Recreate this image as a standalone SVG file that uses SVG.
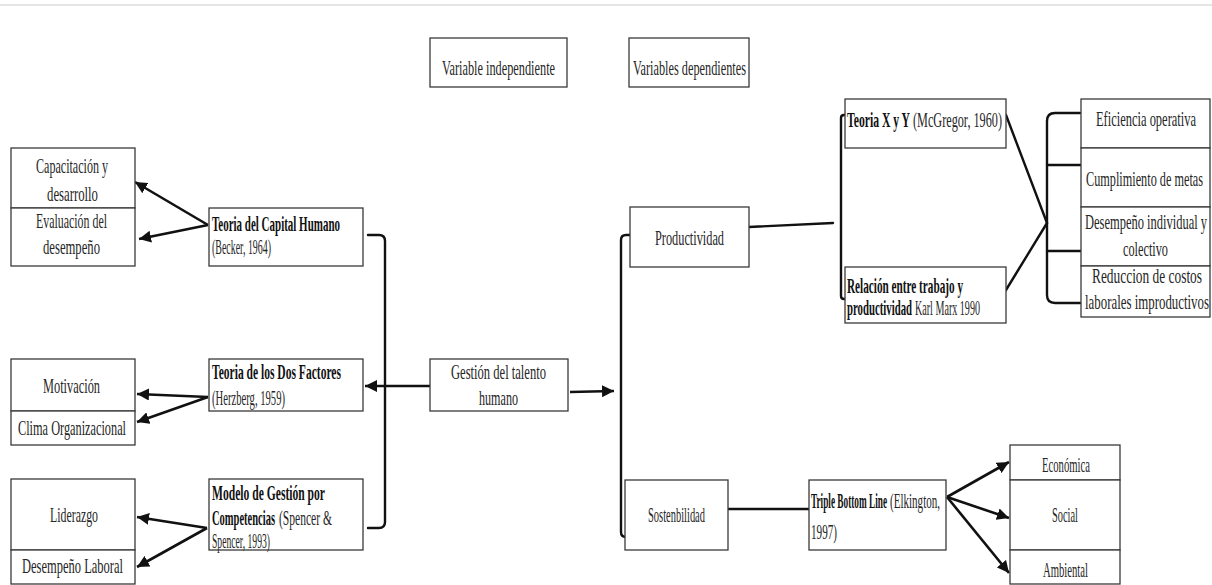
<svg xmlns="http://www.w3.org/2000/svg" width="1212" height="585" viewBox="0 0 1212 585">
<style>
.b{fill:#fff;stroke:#3a3a3a;stroke-width:1.3}
text{font-family:"Liberation Serif","Times New Roman",serif;font-size:21px;fill:#262626}
.bd{font-weight:bold;fill:#111}
.c{fill:none;stroke:#111;stroke-width:2.4;stroke-linecap:round}
.a{fill:none;stroke:#111;stroke-width:2.6;marker-end:url(#ah)}
</style>
<defs>
<marker id="ah" markerUnits="userSpaceOnUse" markerWidth="14" markerHeight="12" refX="12" refY="6" orient="auto">
<path d="M0,0 L12,6 L0,12 Z" fill="#111"/>
</marker>
</defs>
<rect width="1212" height="585" fill="#fff"/>
<line x1="0" y1="5" x2="1212" y2="5" stroke="#dcdcdc" stroke-width="1.5"/>

<g id="connectors">
<line class="a" x1="208" y1="225" x2="135" y2="182"/>
<line class="a" x1="208" y1="225" x2="139" y2="239"/>
<line class="a" x1="208" y1="397" x2="137" y2="394"/>
<line class="a" x1="208" y1="397" x2="137" y2="422"/>
<line class="a" x1="207" y1="528" x2="137" y2="517"/>
<line class="a" x1="207" y1="528" x2="137" y2="567"/>
<path class="c" d="M368,235 L379,235 Q385,235 385,241 L385,522 Q385,528 379,528 L368,528"/>
<line class="a" x1="430" y1="386" x2="365" y2="386"/>
<line class="a" x1="570" y1="392" x2="614" y2="391"/>
<path class="c" d="M630,235 L626,235 Q621,235 621,240 L621,532 Q621,537 626,537 L626,537"/>
<line class="c" x1="749" y1="227" x2="833" y2="223"/>
<path class="c" d="M845,115 L844,115 Q841,115 841,118 L841,296 Q841,299 844,299 L845,299"/>
<line class="c" stroke-width="2" x1="1006" y1="115" x2="1047" y2="223"/>
<line class="c" stroke-width="2" x1="1006" y1="290" x2="1047" y2="223"/>
<path class="c" d="M1080,113 L1055,113 Q1047,113 1047,121 L1047,295 Q1047,303 1055,303 L1080,303"/>
<line class="c" x1="1047" y1="165" x2="1081" y2="165"/>
<line class="c" x1="1047" y1="251" x2="1081" y2="251"/>
<line class="c" x1="728" y1="509" x2="809" y2="509"/>
<line class="a" x1="947" y1="497" x2="1009" y2="462"/>
<line class="a" x1="947" y1="497" x2="1009" y2="518"/>
<line class="a" x1="947" y1="497" x2="1009" y2="573"/>
</g>

<g id="var-indep"><rect class="b" x="430" y="38" width="137" height="49"/><text x="442" y="75" textLength="113" lengthAdjust="spacingAndGlyphs">Variable independiente</text></g>
<g id="var-dep"><rect class="b" x="629" y="38" width="120" height="49"/><text x="633" y="75" textLength="113" lengthAdjust="spacingAndGlyphs">Variables dependientes</text></g>

<g id="capacitacion"><rect class="b" x="11" y="148" width="124" height="60"/><text x="36" y="173" textLength="72" lengthAdjust="spacingAndGlyphs">Capacitación y</text><text x="47" y="201" textLength="51" lengthAdjust="spacingAndGlyphs">desarrollo</text></g>
<g id="evaluacion"><rect class="b" x="11" y="208" width="124" height="58"/><text x="36" y="228" textLength="71" lengthAdjust="spacingAndGlyphs">Evaluación del</text><text x="43" y="254" textLength="57" lengthAdjust="spacingAndGlyphs">desempeño</text></g>
<g id="motivacion"><rect class="b" x="11" y="359" width="124" height="52"/><text x="43" y="393" textLength="57" lengthAdjust="spacingAndGlyphs">Motivación</text></g>
<g id="clima"><rect class="b" x="11" y="411" width="124" height="34"/><text x="18" y="435" textLength="108" lengthAdjust="spacingAndGlyphs">Clima Organizacional</text></g>
<g id="liderazgo"><rect class="b" x="11" y="479" width="124" height="71"/><text x="50" y="522" textLength="48" lengthAdjust="spacingAndGlyphs">Liderazgo</text></g>
<g id="desempeno-laboral"><rect class="b" x="11" y="550" width="124" height="34"/><text x="22" y="573" textLength="101" lengthAdjust="spacingAndGlyphs">Desempeño Laboral</text></g>

<g id="capital-humano"><rect class="b" x="209" y="208" width="154" height="58"/><text class="bd" x="212" y="231" textLength="128" lengthAdjust="spacingAndGlyphs">Teoria del Capital Humano</text><text x="212" y="254" textLength="59" lengthAdjust="spacingAndGlyphs">(Becker, 1964)</text></g>
<g id="dos-factores"><rect class="b" x="209" y="359" width="154" height="52"/><text class="bd" x="212" y="379" textLength="129" lengthAdjust="spacingAndGlyphs">Teoria de los Dos Factores</text><text x="212" y="405" textLength="73" lengthAdjust="spacingAndGlyphs">(Herzberg, 1959)</text></g>
<g id="competencias"><rect class="b" x="209" y="479" width="154" height="71"/><text class="bd" x="212" y="500" textLength="113" lengthAdjust="spacingAndGlyphs">Modelo de Gestión por</text><text class="bd" x="212" y="525" textLength="63" lengthAdjust="spacingAndGlyphs">Competencias</text><text x="279" y="525" textLength="53" lengthAdjust="spacingAndGlyphs">(Spencer &amp;</text><text x="212" y="548" textLength="58" lengthAdjust="spacingAndGlyphs">Spencer, 1993)</text></g>

<g id="gestion"><rect class="b" x="430" y="359" width="138" height="52"/><text x="451" y="379" textLength="95" lengthAdjust="spacingAndGlyphs">Gestión del talento</text><text x="479" y="405" textLength="39" lengthAdjust="spacingAndGlyphs">humano</text></g>

<g id="productividad"><rect class="b" x="630" y="207" width="119" height="60"/><text x="655" y="245" textLength="69" lengthAdjust="spacingAndGlyphs">Productividad</text></g>
<g id="sostenbilidad"><rect class="b" x="625" y="480" width="103" height="70"/><text x="648" y="522" textLength="57" lengthAdjust="spacingAndGlyphs">Sostenbilidad</text></g>

<g id="teoria-xy"><rect class="b" x="845" y="99" width="161" height="49"/><text class="bd" x="847" y="127" textLength="63" lengthAdjust="spacingAndGlyphs">Teoria X y Y</text><text x="913" y="127" textLength="89" lengthAdjust="spacingAndGlyphs">(McGregor, 1960)</text></g>
<g id="relacion"><rect class="b" x="845" y="267" width="161" height="56"/><text class="bd" x="847" y="293" textLength="116" lengthAdjust="spacingAndGlyphs">Relación entre trabajo y</text><text class="bd" x="847" y="315" textLength="65" lengthAdjust="spacingAndGlyphs">productividad</text><text x="915" y="315" textLength="65" lengthAdjust="spacingAndGlyphs">Karl Marx 1990</text></g>

<g id="triple"><rect class="b" x="809" y="480" width="137" height="70"/><text class="bd" x="811" y="508" textLength="76" lengthAdjust="spacingAndGlyphs">Triple Bottom Line</text><text x="890" y="508" textLength="50" lengthAdjust="spacingAndGlyphs">(Elkington,</text><text x="811" y="539" textLength="26" lengthAdjust="spacingAndGlyphs">1997)</text></g>

<g id="eficiencia"><rect class="b" x="1081" y="99" width="129" height="49"/><text x="1096" y="126" textLength="100" lengthAdjust="spacingAndGlyphs">Eficiencia operativa</text></g>
<g id="cumplimiento"><rect class="b" x="1081" y="148" width="129" height="59"/><text x="1086" y="186" textLength="117" lengthAdjust="spacingAndGlyphs">Cumplimiento de metas</text></g>
<g id="desempeno-ind"><rect class="b" x="1081" y="207" width="129" height="59"/><text x="1085" y="229" textLength="122" lengthAdjust="spacingAndGlyphs">Desempeño individual y</text><text x="1123" y="256" textLength="45" lengthAdjust="spacingAndGlyphs">colectivo</text></g>
<g id="reduccion"><rect class="b" x="1081" y="266" width="129" height="51"/><text x="1092" y="283" textLength="110" lengthAdjust="spacingAndGlyphs">Reduccion de costos</text><text x="1085" y="309" textLength="124" lengthAdjust="spacingAndGlyphs">laborales improductivos</text></g>

<g id="economica"><rect class="b" x="1010" y="445" width="110" height="35"/><text x="1042" y="472" textLength="48" lengthAdjust="spacingAndGlyphs">Económica</text></g>
<g id="social"><rect class="b" x="1010" y="480" width="110" height="70"/><text x="1052" y="522" textLength="26" lengthAdjust="spacingAndGlyphs">Social</text></g>
<g id="ambiental"><rect class="b" x="1010" y="550" width="110" height="34"/><text x="1043" y="577" textLength="45" lengthAdjust="spacingAndGlyphs">Ambiental</text></g>
</svg>
